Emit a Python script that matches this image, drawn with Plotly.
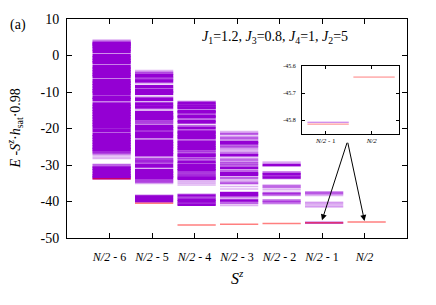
import plotly.graph_objects as go

# ---------------- data ----------------
sector_labels = ["<i>N/2</i> - 6", "<i>N/2</i> - 5", "<i>N/2</i> - 4", "<i>N/2</i> - 3",
                 "<i>N/2</i> - 2", "<i>N/2</i> - 1", "<i>N/2</i>"]
inset_labels = ["<i>N/2</i> - 1", "<i>N/2</i>"]
y_ticks = [10, 0, -10, -20, -30, -40, -50]
y_tick_text = ["10", "0", "-10", "-20", "-30", "-40", "-50"]
inset_ticks = [-45.6, -45.7, -45.8]
inset_tick_text = ["-45.6", "-45.7", "-45.8"]

# strongly populated (dense) levels per S^z sector
dark_0 = [3.2, 2.5, 1.8, 1.1, 0.0, -0.7, -1.4, -2.0, -3.1, -3.8, -4.5, -5.2, -5.8, -6.9, -7.6,
          -8.3, -9.0, -9.7, -10.3, -11.4, -12.1, -13.3, -14.0, -14.7, -15.4, -16.1, -16.8, -17.5,
          -18.2, -18.9, -19.6, -20.5, -21.6, -22.3, -23.0, -23.7, -24.4, -25.1, -25.7,
          -30.9, -31.5, -32.4, -33.0, -33.5]
dark_1 = [-5.5, -7.0, -8.55, -9.7, -10.3, -11.95, -13.3, -14.1, -15.6, -16.3, -16.9, -17.3,
          -19.4, -20.0, -21.4, -22.2, -23.5, -24.2, -24.9, -25.6, -26.4, -27.2, -30.25,
          -31.6, -32.3, -33.0, -33.5, -38.8, -39.8]
dark_2 = [-12.97, -13.7, -14.3, -15.3, -15.55, -16.65, -16.95, -17.85, -18.35, -19.9, -20.85,
          -21.15, -21.7, -22.2, -22.5, -23.7, -24.2, -24.7, -25.2, -25.6, -27.1, -27.45, -29.1,
          -30.0, -30.5, -31.0, -31.45, -33.4, -33.75, -38.38, -39.55, -40.0, -40.9]
dark_3 = [-23.7, -24.06, -27.3, -30.72, -32.25, -32.7, -37.75, -38.2, -39.73]
dark_4 = [-30.0, -32.53, -33.43]
dark_5 = []
dark_6 = []

# medium-weight levels
mid_0 = [3.6, 2.9, -26.2, -26.6, -30.3]
mid_1 = [-4.85, -6.3, -18.3, -20.6, -28.6, -29.2, -34.4]
mid_2 = [-13.4, -14.0, -14.5, -16.0, -19.3, -23.3, -26.0, -26.6, -28.0, -28.5, -29.5, -31.9,
         -32.3, -32.7, -33.0, -39.0, -40.45]
mid_3 = [-21.53, -22.61, -24.6, -25.14, -26.85, -28.47, -29.55, -30.09, -31.62, -33.61,
         -34.87, -38.65, -40.27]
mid_4 = [-32.08, -32.98, -35.86, -37.66, -38.02, -39.73, -40.18]
mid_5 = [-37.66, -45.808]
mid_6 = []

# faint levels
light_0 = [4.25, 3.85, -26.9, -27.3, -27.8, -28.2, -29.8, -30.5, -31.9]
light_1 = [-4.14, -4.6, -6.2, -7.75, -9.05, -11.17, -12.52, -14.77, -17.95, -18.25, -18.55,
           -20.55, -20.75, -22.8, -27.9, -28.2, -28.5, -28.8, -29.1, -29.4, -30.9, -34.15,
           -34.5, -34.8, -35.05, -38.2, -38.45, -39.3]
light_2 = [-12.52, -15.0, -16.3, -17.3, -19.6, -20.4, -22.9, -26.3, -34.2, -34.6, -35.0,
           -35.5, -37.93, -38.9, -40.7]
light_3 = [-20.81, -21.2, -22.16, -22.95, -23.3, -25.68, -26.04, -26.4, -27.84, -28.92, -29.2,
           -31.17, -33.16, -34.33, -35.23, -35.86, -36.58, -37.4, -39.28, -40.63, -41.1]
light_4 = [-29.19, -29.55, -30.27, -33.79, -35.5, -36.31, -36.76, -38.38, -40.63]
light_5 = [-37.3, -38.02, -38.38, -40.18, -40.45, -40.81, -41.26, -41.54]
light_6 = []

# lowest level of each sector (red)
ground = [-33.8, -40.45, -46.43, -46.23, -46.06, -45.815, -45.64]

dark_levels = [dark_0, dark_1, dark_2, dark_3, dark_4, dark_5, dark_6]
mid_levels = [mid_0, mid_1, mid_2, mid_3, mid_4, mid_5, mid_6]
light_levels = [light_0, light_1, light_2, light_3, light_4, light_5, light_6]

# ---------------- styling ----------------
FONT = "Liberation Serif"
PURPLE = "#9400D3"
MID = "rgba(148,0,211,0.6)"
LIGHT = "rgba(148,0,211,0.3)"
RED = "rgba(255,0,0,0.5)"
LEFT, RIGHT = -0.4, 0.5


def segs(pos, vals, lo=None, hi=None):
    xs, ys = [], []
    for v in vals:
        if lo is not None and not (lo <= v <= hi):
            continue
        xs += [pos + LEFT, pos + RIGHT, None]
        ys += [v, v, None]
    return xs, ys


fig = go.Figure()

for k in range(len(sector_labels)):
    wd = 3.6 if k < 2 else 2.5
    for vals, col, w in [(light_levels[k], LIGHT, 1.5), (mid_levels[k], MID, wd),
                         (dark_levels[k], PURPLE, wd)]:
        if not vals:
            continue
        xs, ys = segs(k, vals)
        fig.add_trace(go.Scatter(x=xs, y=ys, mode="lines", line=dict(color=col, width=w),
                                 showlegend=False, hoverinfo="skip"))
    xs, ys = segs(k, [ground[k]])
    fig.add_trace(go.Scatter(x=xs, y=ys, mode="lines", line=dict(color=RED, width=1.5),
                             showlegend=False, hoverinfo="skip"))

# inset: the two top sectors
ILO, IHI = -45.85, -45.6
for j, k in enumerate([5, 6]):
    xs, ys = segs(j, mid_levels[k], ILO, IHI)
    if xs:
        fig.add_trace(go.Scatter(x=xs, y=ys, mode="lines", line=dict(color=MID, width=1),
                                 xaxis="x2", yaxis="y2", showlegend=False, hoverinfo="skip"))
    xs, ys = segs(j, [ground[k]], ILO, IHI)
    fig.add_trace(go.Scatter(x=xs, y=ys, mode="lines", line=dict(color=RED, width=1),
                             xaxis="x2", yaxis="y2", showlegend=False, hoverinfo="skip"))

axis_common = dict(showline=True, linecolor="black", linewidth=1, mirror="ticks",
                   ticks="inside", tickcolor="black", showgrid=False, zeroline=False)

fig.update_layout(
    width=436, height=305,
    margin=dict(l=67, r=29, t=16, b=67),
    paper_bgcolor="white", plot_bgcolor="white",
    font=dict(family=FONT, color="black"),
    xaxis=dict(range=[-1, 7], tickvals=list(range(7)), ticktext=sector_labels, ticklen=5,
               tickfont=dict(size=12, family=FONT), ticklabelstandoff=8, **axis_common),
    yaxis=dict(range=[-50, 10], tickvals=y_ticks, ticktext=y_tick_text, ticklen=5,
               tickfont=dict(size=14, family=FONT), ticklabelstandoff=4, **axis_common),
    xaxis2=dict(domain=[0.691, 0.976], anchor="y2", range=[-0.52, 1.59], tickvals=[0, 1],
                ticktext=inset_labels, ticklen=3, tickfont=dict(size=7, family=FONT),
                **axis_common),
    yaxis2=dict(domain=[0.477, 0.784], anchor="x2", range=[ILO, IHI],
                tickvals=inset_ticks, ticktext=inset_tick_text, ticklen=3,
                tickfont=dict(size=6, family=FONT), ticklabelstandoff=4, **axis_common),
)

fig.add_annotation(x=5.0, y=-45.15, ax=5.6, ay=-23.5, xref="x", yref="y", axref="x",
                   ayref="y", text="", showarrow=True, arrowhead=2, arrowsize=1.2,
                   arrowwidth=1, arrowcolor="black")
fig.add_annotation(x=6.0, y=-45.35, ax=5.6, ay=-23.5, xref="x", yref="y", axref="x",
                   ayref="y", text="", showarrow=True, arrowhead=2, arrowsize=1.2,
                   arrowwidth=1, arrowcolor="black")

ctr = dict(xanchor="center", yanchor="middle", showarrow=False, xref="paper", yref="paper")
fig.add_annotation(x=-0.144, y=0.973, text="(a)", font=dict(size=14, family=FONT), **ctr)
fig.add_annotation(x=0.612, y=0.914,
                   text="<i>J</i><sub>1</sub>=1.2, <i>J</i><sub>3</sub>=0.8, "
                        "<i>J</i><sub>4</sub>=1, <i>J</i><sub>2</sub>=5",
                   font=dict(size=14, family=FONT), **ctr)
fig.add_annotation(x=-0.153, y=0.5, textangle=-90,
                   text="<i>E</i> -<i>S</i><sup><i>z</i></sup>·<i>h</i><sub>sat</sub>·0.98",
                   font=dict(size=14, family=FONT), **ctr)
fig.add_annotation(x=0.5, y=-0.18, text="<i>S</i><sup><i>z</i></sup>",
                   font=dict(size=16, family=FONT), **ctr)

fig.write_html("out.html", config={"displayModeBar": False},
               post_script="document.body.style.margin='0';")
